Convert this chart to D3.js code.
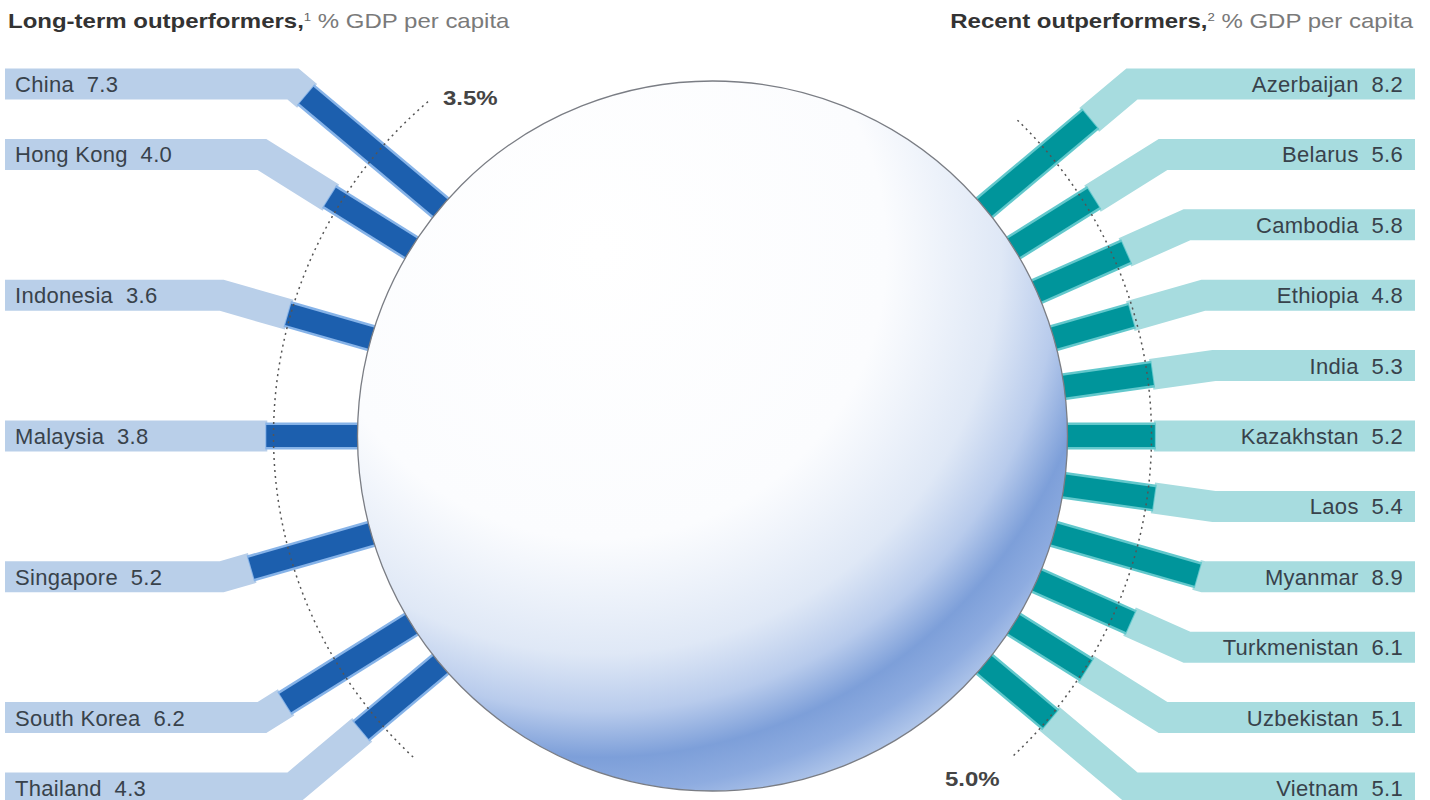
<!DOCTYPE html>
<html>
<head>
<meta charset="utf-8">
<script src="https://cdn.jsdelivr.net/npm/d3@7"></script>
<style>
  html, body { margin: 0; padding: 0; background: #ffffff; }
  svg { display: block; font-family: "Liberation Sans", Arial, Helvetica, sans-serif; }
</style>
</head>
<body>
<svg id="chart" width="1430" height="800"></svg>
<script>
// ---------- DATA ----------
const leftCountries = ["China", "Hong Kong", "Indonesia", "Malaysia", "Singapore", "South Korea", "Thailand"];
const leftValues    = [7.3, 4.0, 3.6, 3.8, 5.2, 6.2, 4.3];
const leftSlots     = [0, 1, 3, 5, 7, 9, 10];

const rightCountries = ["Azerbaijan", "Belarus", "Cambodia", "Ethiopia", "India", "Kazakhstan",
                        "Laos", "Myanmar", "Turkmenistan", "Uzbekistan", "Vietnam"];
const rightValues    = [8.2, 5.6, 5.8, 4.8, 5.3, 5.2, 5.4, 8.9, 6.1, 5.1, 5.1];
const rightSlots     = [0, 1, 2, 3, 4, 5, 6, 7, 8, 9, 10];

const leftReference  = 3.5;
const rightReference = 5.0;
const leftTitleBold  = "Long-term outperformers,";
const rightTitleBold = "Recent outperformers,";
const titleRest      = " % GDP per capita";

// ---------- LAYOUT ----------
const svg = d3.select("#chart");
const cx = 712.5, cy = 436, R = 355, refOffset = 84;
const refR = R + refOffset;

const rowY   = d3.scaleLinear().domain([0, 10]).range([84, 788]);
const angleS = d3.scaleLinear().domain([0, 10]).range([40, -40]);   // degrees above horizontal
const leftLen  = d3.scaleLinear().domain([0, leftReference]).range([0, refOffset]);
const rightLen = d3.scaleLinear().domain([0, rightReference]).range([0, refOffset]);

const BAND_W = 31, BAR_W = 22, HALO_W = 27;
const leftStyle  = { band: "#b9cfe9", halo: "#86b3e8", bar: "#1c5fae", edge: 5 };
const rightStyle = { band: "#a7dcdf", halo: "#62c8cc", bar: "#00959b", edge: 1415 };

function pt(side, theta, r) {
  const t = theta * Math.PI / 180;
  return [cx + side * r * Math.cos(t), cy - r * Math.sin(t)];
}

// Gradient for the globe
const defs = svg.append("defs");
const grad = defs.append("radialGradient")
  .attr("id", "globeGrad")
  .attr("gradientUnits", "userSpaceOnUse")
  .attr("cx", cx - 0.32 * R).attr("cy", cy - 0.52 * R)
  .attr("r", 575);
[[0, "#ffffff"], [0.5, "#fbfcfe"], [0.7, "#dfe8f6"], [0.8, "#b8cbec"],
 [0.88, "#7d9fd9"], [0.94, "#8eace0"], [1, "#b4c9eb"]].forEach(([o, c]) =>
  grad.append("stop").attr("offset", o).attr("stop-color", c));

const gBands = svg.append("g");
const gBars  = svg.append("g");

function drawSide(countries, values, slots, side, lenScale, style) {
  countries.forEach((name, i) => {
    const slot = slots[i];
    const theta = angleS(slot);
    const y = rowY(slot);
    const len = lenScale(values[i]);
    const rEnd = R + len;
    const p = d3.path();
    const start = pt(side, theta, rEnd - 1);
    if (Math.abs(theta) < 1e-6) {
      p.moveTo(start[0], y);
      p.lineTo(style.edge, y);
    } else {
      const t = theta * Math.PI / 180;
      const rBend = (cy - y) / Math.sin(t);
      const bend = pt(side, theta, rBend);
      const s = rBend > rEnd - 1 ? start : bend;
      p.moveTo(s[0], s[1]);
      p.lineTo(bend[0], bend[1]);
      p.lineTo(style.edge, y);
    }
    gBands.append("path")
      .attr("d", p.toString())
      .attr("fill", "none")
      .attr("stroke", style.band)
      .attr("stroke-width", BAND_W)
      .attr("stroke-linejoin", "miter")
      .attr("stroke-miterlimit", 10);

    const a = pt(side, theta, R - 25), b = pt(side, theta, rEnd + 1);
    gBars.append("line")
      .attr("x1", a[0]).attr("y1", a[1]).attr("x2", b[0]).attr("y2", b[1])
      .attr("stroke", style.halo).attr("stroke-width", HALO_W);
    const b2 = pt(side, theta, rEnd);
    gBars.append("line")
      .attr("x1", a[0]).attr("y1", a[1]).attr("x2", b2[0]).attr("y2", b2[1])
      .attr("stroke", style.bar).attr("stroke-width", BAR_W);

    svg.append("text")
      .attr("x", side < 0 ? 15 : 1403)
      .attr("y", y + 8)
      .attr("text-anchor", side < 0 ? "start" : "end")
      .attr("font-size", 22)
      .attr("letter-spacing", 0.3)
      .attr("fill", "#38424b")
      .text(name + "\u00a0\u00a0" + values[i].toFixed(1));
  });
}

drawSide(leftCountries, leftValues, leftSlots, -1, leftLen, leftStyle);
drawSide(rightCountries, rightValues, rightSlots, 1, rightLen, rightStyle);

// globe
svg.append("circle")
  .attr("cx", cx).attr("cy", cy).attr("r", R)
  .attr("fill", "url(#globeGrad)")
  .attr("stroke", "#7a7d84").attr("stroke-width", 1.3);

// reference dashed arcs
function refArc(a0deg, a1deg) {
  const p = d3.path();
  const a0 = a0deg * Math.PI / 180, a1 = a1deg * Math.PI / 180;
  p.moveTo(cx + refR * Math.cos(a0), cy + refR * Math.sin(a0));
  p.arc(cx, cy, refR, a0, a1, false);
  return p.toString();
}
svg.append("path").attr("d", refArc(133, 230))
  .attr("fill", "none").attr("stroke", "#555").attr("stroke-width", 1.5)
  .attr("stroke-dasharray", "2,4");
svg.append("path").attr("d", refArc(-46, 47))
  .attr("fill", "none").attr("stroke", "#555").attr("stroke-width", 1.5)
  .attr("stroke-dasharray", "2,4");

svg.append("text").attr("transform", "translate(443,105) scale(1.2,1)")
  .attr("font-size", 20).attr("font-weight", "bold").attr("fill", "#444")
  .text(leftReference.toFixed(1) + "%");
svg.append("text").attr("transform", "translate(945,786) scale(1.2,1)")
  .attr("font-size", 20).attr("font-weight", "bold").attr("fill", "#444")
  .text(rightReference.toFixed(1) + "%");

// titles
function title(x, anchor, bold, sup) {
  const t = svg.append("text")
    .attr("transform", `translate(${x},28) scale(1.2,1)`)
    .attr("text-anchor", anchor).attr("font-size", 20);
  t.append("tspan").attr("font-weight", "bold").attr("fill", "#333").text(bold);
  t.append("tspan").attr("font-size", 11).attr("dy", -7).attr("fill", "#666").text(sup);
  t.append("tspan").attr("dy", 7).attr("fill", "#7a7a7a").text(titleRest);
}
title(8, "start", leftTitleBold, "1");
title(1413, "end", rightTitleBold, "2");
</script>
</body>
</html>
